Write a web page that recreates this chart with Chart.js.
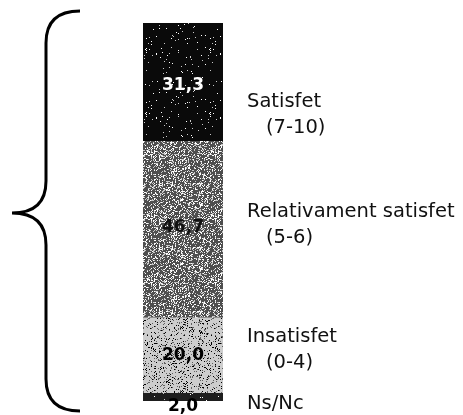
<!DOCTYPE html>
<html>
<head>
<meta charset="utf-8">
<script src="https://cdn.jsdelivr.net/npm/chart.js@4/dist/chart.umd.min.js"></script>
<style>
  html, body { margin: 0; padding: 0; background: #fff; }
  #wrap { width: 463px; height: 415px; }
</style>
</head>
<body>
<div id="wrap"><canvas id="chart" width="463" height="415"></canvas></div>
<script>
// Data (bottom to top)
const categories = ['Ns/Nc', 'Insatisfet', 'Relativament satisfet', 'Satisfet'];
const subLabels = ['', '(0-4)', '(5-6)', '(7-10)'];
const values = [2.0, 20.0, 46.7, 31.3];
const valueText = ['2,0', '20,0', '46,7', '31,3'];

// Styles
const baseColors = ['#1e1e1e', '#cdcdcd', '#4e4e4e', '#0a0a0a'];
const speckle = [0.04, 0.16, 0.32, 0.025]; // share of contrasting dots
const valueColors = ['#000', '#000', '#111', '#fff'];
const textFont = '19.5px "DejaVu Sans", sans-serif';
const valueFont = 'bold 17px "DejaVu Sans", sans-serif';

// label placement relative to segment centre
const nameOffsets = [7, -19, -18, 20];
const valueOffsets = [9, 0, -2, 3];

// grainy print look: fixed integer hash, no randomness
function hash(x, y) {
  let h = (Math.imul(x, 374761393) + Math.imul(y, 668265263)) | 0;
  h = Math.imul(h ^ (h >>> 13), 1274126177);
  return (h ^ (h >>> 16)) >>> 0;
}

function grain(base, share) {
  const size = 64;
  const c = document.createElement('canvas');
  c.width = size; c.height = size;
  const g = c.getContext('2d');
  g.fillStyle = base;
  g.fillRect(0, 0, size, size);
  const dark = parseInt(base.slice(1, 3), 16) < 128;
  for (let y = 0; y < size; y++) {
    for (let x = 0; x < size; x++) {
      const h = hash(x, y);
      if ((h % 10000) / 10000 < share) {
        const alt = (h >>> 20) & 1;
        g.fillStyle = dark ? (alt ? '#ffffff' : '#c8c8c8') : (alt ? '#000000' : '#606060');
        g.fillRect(x, y, 1, 1);
      }
    }
  }
  return g.createPattern(c, 'repeat');
}

const labelsPlugin = {
  id: 'labelsPlugin',
  afterDatasetsDraw(chart) {
    const ctx = chart.ctx;
    const area = chart.chartArea;
    ctx.save();
    chart.data.datasets.forEach((ds, i) => {
      const bar = chart.getDatasetMeta(i).data[0];
      const mid = (bar.y + bar.base) / 2;
      // value in bar
      ctx.font = valueFont;
      ctx.fillStyle = valueColors[i];
      ctx.textAlign = 'center';
      ctx.textBaseline = 'middle';
      ctx.fillText(valueText[i], bar.x, mid + valueOffsets[i]);
      // category text to the right
      ctx.font = textFont;
      ctx.fillStyle = '#111';
      ctx.textAlign = 'left';
      const lx = area.right + 24;
      ctx.fillText(categories[i], lx, mid + nameOffsets[i]);
      if (subLabels[i]) {
        ctx.fillText(subLabels[i], lx + 19, mid + nameOffsets[i] + 26);
      }
    });

    // curly brace on the left
    const top = area.top - 12;
    const bot = area.bottom + 10;
    const tipY = 213;
    const xEnd = 80, xLine = 46, xTip = 12, r = 32;
    ctx.strokeStyle = '#000';
    ctx.lineWidth = 3;
    ctx.beginPath();
    ctx.moveTo(xEnd, top);
    ctx.quadraticCurveTo(xLine, top, xLine, top + r);
    ctx.lineTo(xLine, tipY - r);
    ctx.quadraticCurveTo(xLine, tipY, xTip, tipY);
    ctx.quadraticCurveTo(xLine, tipY, xLine, tipY + r);
    ctx.lineTo(xLine, bot - r);
    ctx.quadraticCurveTo(xLine, bot, xEnd, bot);
    ctx.stroke();
    ctx.restore();
  }
};

const datasets = values.map((v, i) => ({
  label: categories[i],
  data: [v],
  backgroundColor: grain(baseColors[i], speckle[i]),
  borderWidth: 0,
  barPercentage: 1,
  categoryPercentage: 1
}));

new Chart(document.getElementById('chart'), {
  type: 'bar',
  data: { labels: [''], datasets: datasets },
  options: {
    responsive: false,
    animation: false,
    layout: { padding: { left: 143, right: 240, top: 23, bottom: 14 } },
    plugins: { legend: { display: false }, tooltip: { enabled: false } },
    scales: {
      x: { stacked: true, display: false },
      y: { stacked: true, display: false, min: 0, max: 100 }
    }
  },
  plugins: [labelsPlugin]
});
</script>
</body>
</html>
